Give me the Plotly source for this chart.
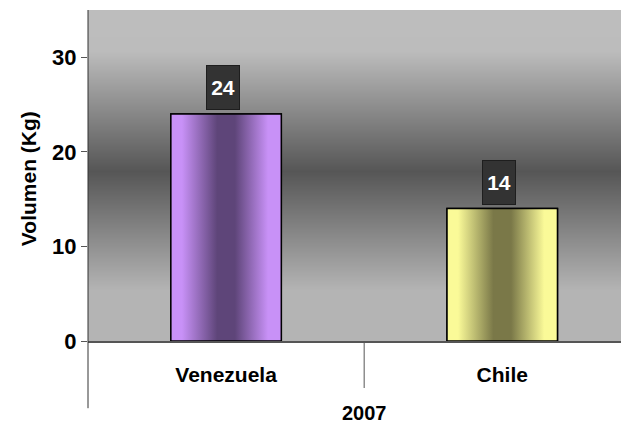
import plotly.graph_objects as go

# ---- data ----
categories = ["Venezuela", "Chile"]
group_label = "2007"
values = [24, 14]
y_ticks = [0, 10, 20, 30]
y_title = "Volumen (Kg)"

# ---- styles ----
edge_colors = ["#c891f7", "#fafa98"]
center_colors = ["#5e4579", "#7a7848"]
FONT = "Liberation Sans, Arial, sans-serif"

# background gradient stops (value on y axis, gray level)
bg_y = [-2, 5.4, 18.0, 30.7, 37]
bg_gray = [180, 180, 86, 188, 190]

xpos = list(range(len(categories)))
bar_w = 0.40

fig = go.Figure()

# background gradient
fig.add_trace(go.Heatmap(
    x=[-1, 2], y=bg_y, z=[[g, g] for g in bg_gray],
    zmin=0, zmax=255, colorscale=[[0, "black"], [1, "white"]],
    zsmooth="best", showscale=False, hoverinfo="skip"))

# bars
fig.add_trace(go.Bar(
    x=xpos, y=values, width=bar_w, marker=dict(color=edge_colors,
    line=dict(color="black", width=1.5)), hoverinfo="x+y"))

# gradient overlay for each bar
for i, v in enumerate(values):
    x0, x1 = xpos[i] - bar_w / 2, xpos[i] + bar_w / 2
    L, D = edge_colors[i], center_colors[i]
    fig.add_trace(go.Scatter(
        x=[x0, x1, x1, x0, x0], y=[0, 0, v, v, 0], mode="lines",
        fill="toself", line=dict(color="black", width=1.5),
        fillgradient=dict(type="horizontal", colorscale=[
            [0, L], [0.1, L], [0.42, D], [0.58, D], [0.88, L], [1, L]]),
        hoverinfo="skip", showlegend=False))

# value label boxes
for i, v in enumerate(values):
    fig.add_annotation(
        x=xpos[i], y=v, text=str(v), showarrow=False, yanchor="bottom",
        yshift=4, xshift=-3, bgcolor="#333333", bordercolor="#1e1e1e",
        borderwidth=1, borderpad=0, width=32, height=43,
        font=dict(family=FONT, size=21, color="white", weight="bold"))

# y title
fig.add_annotation(
    xref="paper", yref="paper", x=0, y=0.489, xshift=-60, text=y_title,
    textangle=-90, showarrow=False, xanchor="center", yanchor="middle",
    font=dict(family=FONT, size=21, color="black", weight="bold"))

# group label
fig.add_annotation(
    xref="x", yref="paper", x=(xpos[0] + xpos[-1]) / 2, y=-0.2175,
    text=group_label, showarrow=False, yanchor="middle",
    font=dict(family=FONT, size=20, color="black", weight="bold"))

# left axis extension and group divider
fig.add_shape(type="line", xref="paper", yref="paper", x0=0, x1=0,
              y0=1, y1=-0.203, line=dict(color="#333333", width=1))
fig.add_shape(type="line", xref="x", yref="paper",
              x0=(xpos[0] + xpos[1]) / 2, x1=(xpos[0] + xpos[1]) / 2,
              y0=0, y1=-0.142, line=dict(color="#555555", width=1))

fig.update_layout(
    width=621, height=422, margin=dict(l=80, r=0, t=2, b=89),
    paper_bgcolor="white", plot_bgcolor="#b4b4b4", showlegend=False,
    xaxis=dict(range=[-0.5, 1.459], tickvals=xpos, ticktext=categories,
               showgrid=False, zeroline=False, showline=True,
               linecolor="#555555", linewidth=1.5, ticks="",
               ticklabelstandoff=14,
               tickfont=dict(family=FONT, size=21, color="black", weight="bold")),
    yaxis=dict(range=[0, 35], tickvals=y_ticks, showgrid=False,
               zeroline=False, showline=False, ticks="outside", ticklen=6,
               tickcolor="#555555", tickwidth=1,
               tickfont=dict(family=FONT, size=22, color="black", weight="bold")),
)

fig.write_html("out.html")
